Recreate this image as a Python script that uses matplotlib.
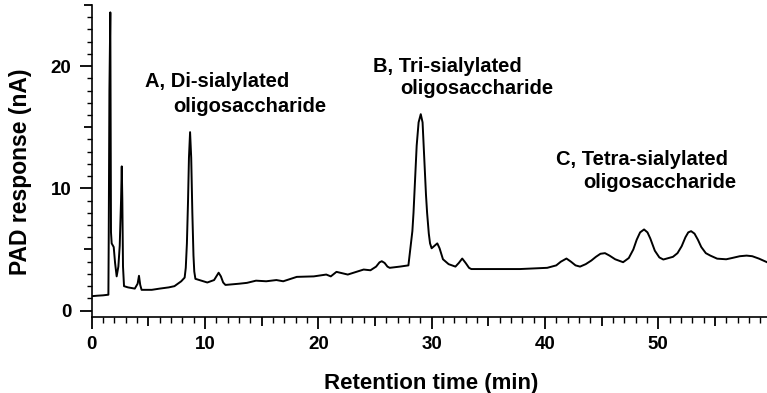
import matplotlib
matplotlib.use("Agg")
import matplotlib.pyplot as plt
from matplotlib.ticker import MultipleLocator

# chromatogram trace, read point by point (min, nA)
time_min = [
    0.0, 0.5, 1.0, 1.47, 1.50, 1.56, 1.64, 1.67, 1.70, 1.76, 1.94, 2.06, 2.20,
    2.35, 2.47, 2.59, 2.65, 2.70, 2.76, 2.85, 3.2, 3.8, 4.05, 4.17, 4.28, 4.4,
    5.3, 6.0, 6.8, 7.3, 7.9, 8.2, 8.3, 8.4, 8.5, 8.58, 8.68, 8.78, 8.88, 8.98,
    9.05, 9.15, 9.5, 10.2, 10.8, 11.0, 11.2, 11.4, 11.6, 11.8, 13.0, 13.7,
    14.5, 15.4, 16.3, 16.9, 18.1, 19.6, 20.7, 21.1, 21.6, 22.6, 24.0, 24.6,
    25.1, 25.4, 25.6, 25.85, 26.1, 26.3, 27.2, 27.95, 28.15, 28.3, 28.4, 28.55,
    28.68, 28.85, 29.04, 29.2, 29.35, 29.5, 29.6, 29.75, 29.86, 30.0, 30.25,
    30.5, 30.7, 31.0, 31.5, 32.1, 32.4, 32.7, 33.0, 33.3, 33.5, 35.7, 37.8,
    40.2, 40.6, 41.0, 41.4, 41.9, 42.3, 42.7, 43.1, 43.6, 44.1, 44.5, 44.9,
    45.3, 45.7, 46.2, 46.9, 47.4, 47.8, 48.1, 48.4, 48.75, 49.05, 49.3, 49.7,
    50.1, 50.45, 51.3, 51.7, 52.07, 52.4, 52.65, 52.9, 53.2, 53.5, 53.8, 54.2,
    54.6, 55.2, 56.0, 56.5, 57.2, 57.8, 58.3, 58.9, 59.6,
]
pad_na = [
    1.18, 1.22, 1.25, 1.30, 6.0, 18.0, 24.4, 16.0, 6.4, 5.5, 5.2, 3.9, 2.8,
    3.6, 5.3, 9.1, 11.8, 9.1, 3.6, 2.0, 1.9, 1.8, 2.2, 2.85, 2.1, 1.7,
    1.7, 1.8, 1.9, 2.0, 2.4, 2.7, 3.5, 5.5, 9.0, 12.5, 14.6, 12.5, 8.0, 4.5,
    3.2, 2.6, 2.5, 2.3, 2.5, 2.8, 3.1, 2.8, 2.3, 2.1, 2.2, 2.27,
    2.45, 2.4, 2.5, 2.4, 2.76, 2.8, 2.95, 2.8, 3.17, 2.95, 3.36, 3.3,
    3.6, 3.95, 4.04, 3.9, 3.6, 3.5, 3.6, 3.7, 5.3, 6.5, 8.0, 11.0,
    13.5, 15.4, 16.07, 15.4, 12.5, 9.5, 8.0, 6.3, 5.5, 5.1, 5.3,
    5.5, 5.1, 4.2, 3.8, 3.6, 3.9, 4.26, 3.9, 3.5, 3.4, 3.4, 3.4,
    3.5, 3.6, 3.7, 4.0, 4.26, 4.0, 3.7, 3.6, 3.8, 4.1, 4.4, 4.65,
    4.7, 4.5, 4.2, 3.96, 4.3, 5.0, 5.8, 6.4, 6.64, 6.4, 5.9, 4.9,
    4.35, 4.18, 4.4, 4.7, 5.27, 6.0, 6.4, 6.5, 6.3, 5.8, 5.2, 4.7,
    4.5, 4.25, 4.2, 4.3, 4.45, 4.5, 4.45, 4.25, 3.96,
]

x_labelled = [0, 10, 20, 30, 40, 50]
y_labelled = [0, 10, 20]

# peak annotations: two lines each, the second indented
peak_labels = [
    ("A, Di-sialylated", "oligosaccharide", 4.7, 18.3, 7.2, 16.25),
    ("B, Tri-sialylated", "oligosaccharide", 24.86, 19.56, 27.2, 17.7),
    ("C, Tetra-sialylated", "oligosaccharide", 40.97, 11.9, 43.4, 10.06),
]

plt.rcParams["font.family"] = ["Liberation Sans", "DejaVu Sans"]
plt.rcParams["font.weight"] = "bold"

fig = plt.figure(figsize=(7.67, 3.93), dpi=100)
ax = fig.add_axes([0.1196, 0.1941, 0.8804, 0.7931])

ax.plot(time_min, pad_na, color="black", linewidth=1.4)

ax.set_xlim(0, 59.6)
ax.set_ylim(-0.5, 25.0)

ax.spines["top"].set_visible(False)
ax.spines["right"].set_visible(False)
for side in ("left", "bottom"):
    ax.spines[side].set_linewidth(1.2)

# major ticks every 5, labelled only at multiples of 10
x_major = list(range(0, 60, 5))
y_major = list(range(0, 26, 5))
ax.set_xticks(x_major)
ax.set_yticks(y_major)
ax.set_xticklabels([str(v) if v in x_labelled else "" for v in x_major])
ax.set_yticklabels([str(v) if v in y_labelled else "" for v in y_major])
ax.xaxis.set_minor_locator(MultipleLocator(1))
ax.yaxis.set_minor_locator(MultipleLocator(1))
ax.tick_params(which="major", length=8.6, width=1.3, labelsize=13.5)
ax.tick_params(axis="x", which="major", pad=5)
ax.tick_params(axis="y", which="major", pad=6)
ax.tick_params(axis="x", which="minor", length=4.3, width=1.0)
ax.tick_params(axis="y", which="minor", length=3.6, width=1.0)

# the fives get a shorter tick than the tens
for v, tick in zip(x_major, ax.xaxis.get_major_ticks()):
    if v % 10:
        tick.tick1line.set_markersize(6.5)
for v, tick in zip(y_major, ax.yaxis.get_major_ticks()):
    if v % 10:
        tick.tick1line.set_markersize(5.8)

for lbl in ax.get_xticklabels() + ax.get_yticklabels():
    lbl.set_fontweight("bold")

ax.set_xlabel("Retention time (min)", fontsize=16, fontweight="bold")
ax.set_ylabel("PAD response (nA)", fontsize=16.5, fontweight="bold")
ax.xaxis.set_label_coords(0.503, -0.18)
ax.yaxis.set_label_coords(-0.088, 0.466)

for line1, line2, x1, y1, x2, y2 in peak_labels:
    ax.text(x1, y1, line1, fontsize=14.5, fontweight="bold", ha="left", va="baseline")
    ax.text(x2, y2, line2, fontsize=14.5, fontweight="bold", ha="left", va="baseline")

fig.savefig("out.png", dpi=100)
